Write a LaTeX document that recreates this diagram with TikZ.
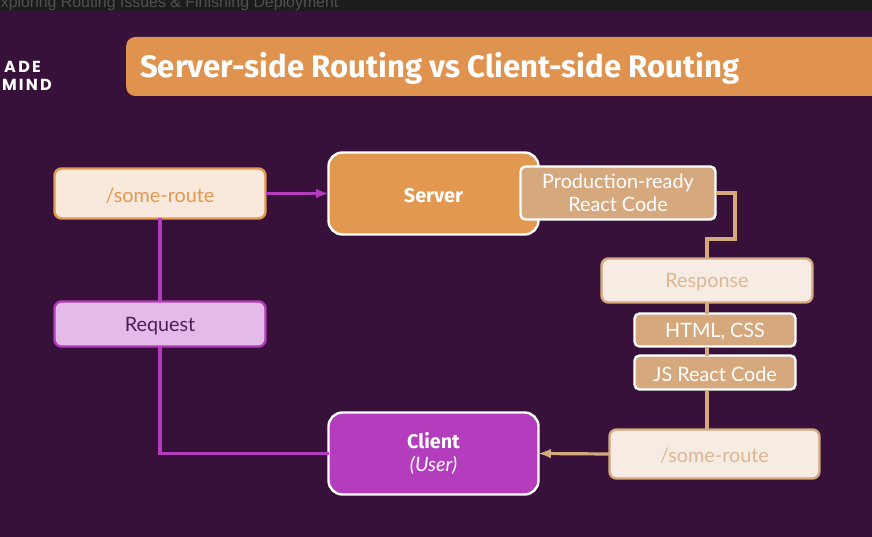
\documentclass[tikz,border=0pt]{standalone}
\usepackage{fontspec}
\setmainfont{Lato}
\newfontfamily\titlefont{Fira Sans}
\newfontfamily\barfont{Liberation Sans}
\newfontfamily\logofont[LetterSpace=14]{Poppins}
\usetikzlibrary{arrows,positioning,calc}
\definecolor{plum}{HTML}{371139}
\definecolor{barblack}{HTML}{1C1C1E}
\definecolor{bartext}{HTML}{505052}
\definecolor{headorange}{HTML}{E0934E}
\definecolor{orange}{HTML}{E39850}
\definecolor{routefill}{HTML}{F9E9DC}
\definecolor{violet}{HTML}{B33DBD}
\definecolor{violetfill}{HTML}{E4BAE8}
\definecolor{violettext}{HTML}{4F1F55}
\definecolor{tan}{HTML}{D5A87D}
\definecolor{tanfill}{HTML}{F6ECE4}
\definecolor{tantext}{HTML}{DEB692}
\tikzset{box/.style={rectangle, rounded corners=7pt, line width=2.4pt, inner sep=0pt, outer sep=0pt, align=center, font=\fontsize{19.8}{23}\selectfont, execute at begin node=\rule{0pt}{18pt}},
main box/.style={box, draw=white, rounded corners=14pt, minimum width=210pt, minimum height=82pt, text=white},
code box/.style={box, draw=white, fill=tan, text=white, rounded corners=5pt},
link/.style={line width=3.2pt}}
\begin{document}
\begin{tikzpicture}[x=1pt, y=-1pt]
        \clip (0, 0) rectangle (872, 537);
        \fill[plum] (0, 0) rectangle (872, 537);
        \fill[barblack] (0, 0) rectangle (872, 11);
        \node[anchor=base west, inner sep=0pt, text=bartext, font=\barfont\fontsize{15.9}{17}\selectfont] (bar) at (-10, 8) {Exploring Routing Issues \& Finishing Deployment};
        
        \node[anchor=base east, inner sep=0pt, text=white, font=\logofont\bfseries\fontsize{16}{16}\selectfont] (logo1) at (41, 73) {ADE};
        \node[anchor=base east, inner sep=0pt, text=white, font=\logofont\bfseries\fontsize{16}{16}\selectfont] (logo2) at (52, 91) {MIND};
        
        \node[rectangle, rounded corners=9pt, fill=headorange, minimum width=780pt, minimum height=59pt, inner sep=0pt, anchor=west] (head) at (126, 66.5) {};
        \node[anchor=west, inner sep=0pt, text=white, font=\titlefont\bfseries\fontsize{31.1}{36}\selectfont] (title) at (140, 68.5) {Server-side Routing vs Client-side Routing};
        
        \node[box, draw=orange, fill=routefill, text=orange, minimum width=211pt, minimum height=50pt] (route) at (160, 193.5) {/some-route};
        \node[box, draw=violet, fill=violetfill, text=violettext, minimum width=211pt, minimum height=45pt] (request) at (160, 324) {Request};
        \node[main box, fill=orange, font=\titlefont\bfseries\fontsize{19.8}{23}\selectfont, execute at begin node=] (server) at (433.5, 193.5) {Server};
        \node[main box, fill=violet] (client) at (433.5, 453.5) {{\titlefont\bfseries\fontsize{19.8}{23}\selectfont Client}\\ \itshape (User)};
        \node[code box, minimum width=195pt, minimum height=53pt] (code) at (618, 193) {Production-ready\\React Code};
        \node[box, draw=tan, fill=tanfill, text=tantext, minimum width=211pt, minimum height=44pt] (response) at (707, 280.5) {Response};
        \node[code box, minimum width=161pt, minimum height=33pt] (html) at (715, 330) {HTML, CSS};
        \node[code box, minimum width=161pt, minimum height=34pt] (js) at (715, 372.5) {JS React Code};
        \node[box, draw=tan, fill=tanfill, text=tantext, minimum width=210pt, minimum height=49pt] (back) at (714.5, 454) {/some-route};
        \coordinate (bend) at (735, 239);
        
        \draw[violet, link, -latex] (route.east) -- (server.west);
        \draw[violet, link] (route) -- (request)
              (request.south) |- (client.west);
        
        \draw[tan, link] (code.east) -| (bend) -| (response.north)
              (response.south) -- (html.north -| response.south)
              (html.south -| response.south) -- (js.north -| response.south)
              (js.south -| response.south) -- (back.north -| response.south);
        \draw[tan, link, -latex] (back.west) -- (client.east);
    \end{tikzpicture}
\end{document}
